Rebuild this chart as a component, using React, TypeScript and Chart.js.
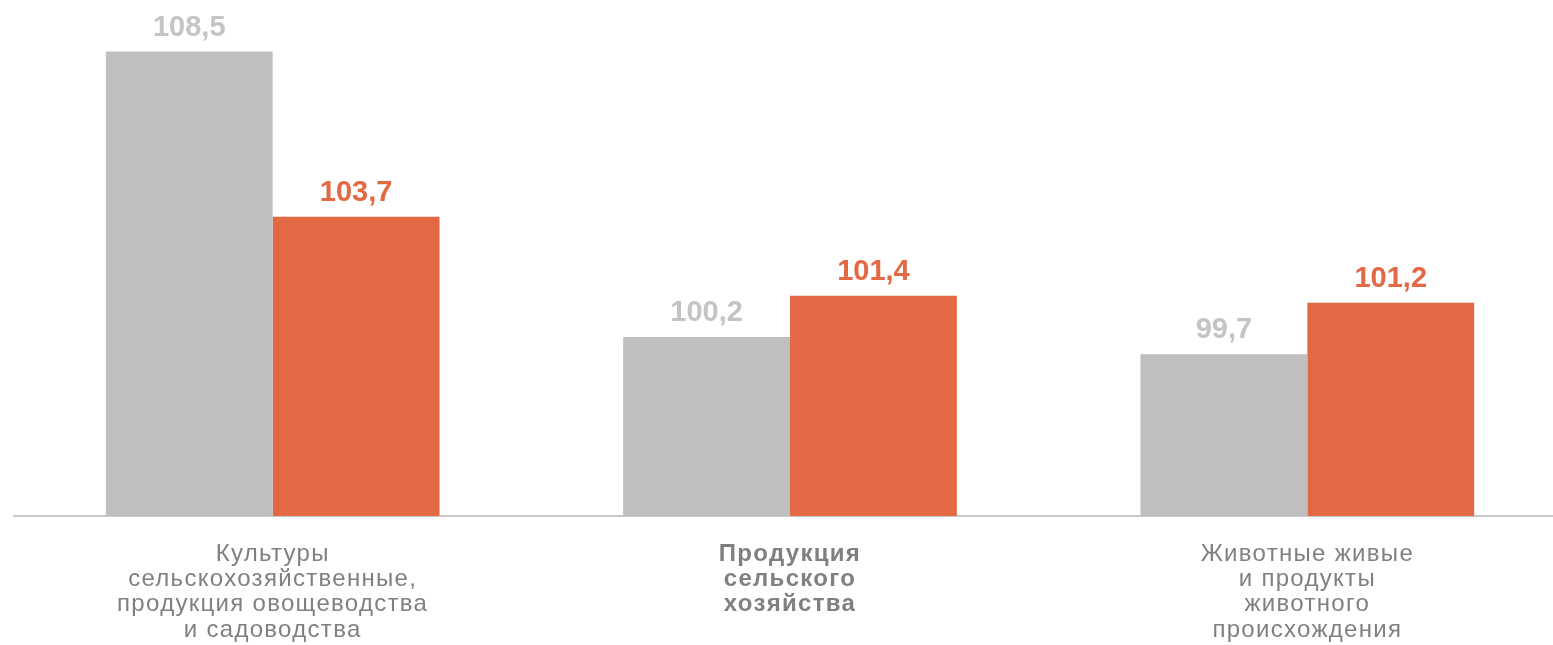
import React, { useEffect, useRef } from "react";
import { Chart, registerables } from "chart.js";

Chart.register(...registerables);

const categories: string[][] = [
  ["Культуры", "сельскохозяйственные,", "продукция овощеводства", "и садоводства"],
  ["Продукция", "сельского", "хозяйства"],
  ["Животные живые", "и продукты", "животного", "происхождения"],
];
const seriesGray: number[] = [108.5, 100.2, 99.7];
const seriesOrange: number[] = [103.7, 101.4, 101.2];
const yMin = 95;
const yMax = 110;

const GRAY = "#bfbfbf";
const ORANGE = "#e36945";
const FONT = "'Liberation Sans', Arial, sans-serif";

const fmt = (v: number) => v.toFixed(1).replace(".", ",");

const spacing = {
  id: "spacing",
  beforeDraw(chart: any) {
    chart.ctx.letterSpacing = "1.3px";
  },
  beforeDatasetsDraw(chart: any) {
    chart.ctx.letterSpacing = "0px";
  },
};

const valueLabels = {
  id: "valueLabels",
  afterDatasetsDraw(chart: any) {
    const ctx = chart.ctx;
    ctx.save();
    ctx.letterSpacing = "0px";
    ctx.font = `bold 29px ${FONT}`;
    ctx.textAlign = "center";
    ctx.textBaseline = "alphabetic";
    chart.data.datasets.forEach((ds: any, di: number) => {
      const meta = chart.getDatasetMeta(di);
      meta.data.forEach((bar: any, i: number) => {
        ctx.fillStyle = di === 0 ? "#c4c4c4" : ORANGE;
        ctx.fillText(fmt(ds.data[i]), bar.x, bar.y - 16);
      });
    });
    ctx.restore();
  },
};

export default function App() {
  const ref = useRef<HTMLCanvasElement>(null);
  useEffect(() => {
    document.body.style.margin = "0";
    const chart = new Chart(ref.current!, {
      type: "bar",
      data: {
        labels: categories,
        datasets: [
          { data: seriesGray, backgroundColor: GRAY, borderWidth: 0 },
          { data: seriesOrange, backgroundColor: ORANGE, borderWidth: 0 },
        ],
      },
      options: {
        animation: false,
        responsive: false,
        maintainAspectRatio: false,
        layout: { padding: { left: 14, right: 0, top: 0, bottom: 0 } },
        plugins: { legend: { display: false }, tooltip: { enabled: false } },
        datasets: { bar: { barPercentage: 1, categoryPercentage: 0.645 } },
        scales: {
          x: {
            grid: { display: false, drawTicks: false },
            border: { display: true, color: "#c8c8c8", width: 2 },
            afterFit: (scale: any) => {
              scale.height = 129;
            },
            ticks: {
              padding: 25.5,
              color: "#808080",
              maxRotation: 0,
              autoSkip: false,
              font: (c: any) => ({
                family: FONT,
                size: 24,
                lineHeight: 1.055,
                weight: c.index === 1 ? "bold" : "normal",
              }),
            },
          },
          y: {
            display: false,
            min: yMin,
            max: yMax,
          },
        },
      },
      plugins: [spacing, valueLabels],
    });
    return () => chart.destroy();
  }, []);
  return (
    <div style={{ position: "fixed", left: 0, top: 0, width: 1553, height: 645, overflow: "hidden" }}>
      <canvas ref={ref} width={1566} height={645} style={{ width: 1566, height: 645, display: "block" }} />
    </div>
  );
}
